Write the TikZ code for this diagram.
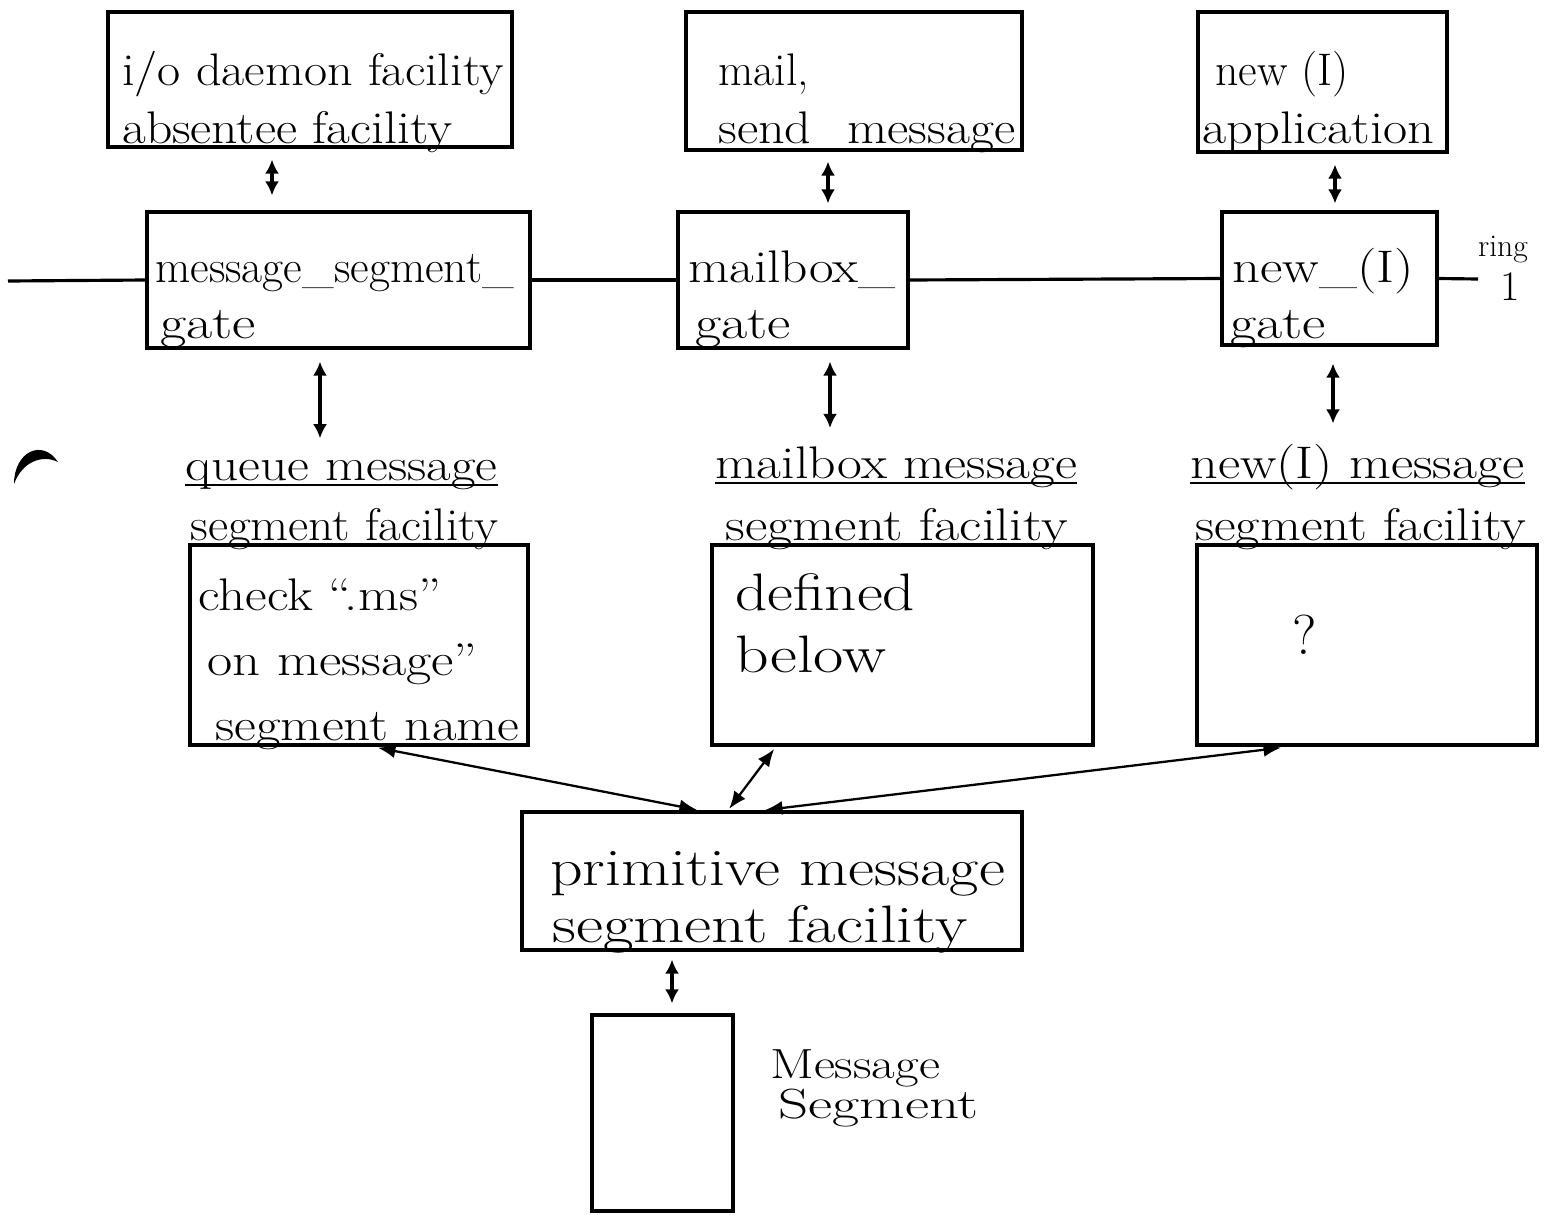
\documentclass[tikz,border=0pt]{standalone}
\usepackage{graphicx}
\usetikzlibrary{arrows.meta,fit,calc}
\newcommand{\hsc}[2]{\scalebox{#1}[1]{#2}}
\begin{document}
\begin{tikzpicture}[x=0.02cm,y=-0.02cm,
  box/.style={draw,line width=1.8pt,inner sep=0pt},
  t/.style={font=\fontsize{26}{30}\selectfont,inner sep=0pt,anchor=base west},
  tb/.style={font=\fontsize{30}{36}\selectfont,inner sep=0pt,anchor=base west},
  ts/.style={font=\fontsize{24}{28}\selectfont,inner sep=0pt,anchor=base west},
  dar/.style={{Latex[length=8pt,width=8pt]}-{Latex[length=8pt,width=8pt]},line width=2pt},
  dart/.style={{Latex[length=10pt,width=8pt]}-{Latex[length=10pt,width=8pt]},line width=1.3pt},
  ring/.style={line width=1.8pt},
  ul/.style={line width=1.5pt}]
\useasboundingbox (0,0) rectangle (1562,1214);

% top row boxes
\node[box,fit={(108,12) (512,147)}] (A) {};
\node[box,fit={(686,12) (1022,150)}] (B) {};
\node[box,fit={(1198,12) (1447,152)}] (C) {};
% gates
\node[box,fit={(147,212) (530,348)}] (GA) {};
\node[box,fit={(678,212) (908,348)}] (GB) {};
\node[box,fit={(1222,212) (1437,345)}] (GC) {};
% facility boxes
\node[box,fit={(190,545) (528,745)}] (QA) {};
\node[box,fit={(712,545) (1093,745)}] (QB) {};
\node[box,fit={(1197,545) (1537,745)}] (QC) {};
% primitive and segment
\node[box,fit={(522,812) (1022,950)}] (P) {};
\node[box,fit={(592,1015) (733,1211)}] (MS) {};

% texts
\node[t] (A1) at (122,85) {\hsc{1.10}{i/o daemon facility}};
\node[t] (A2) at (122,143) {\hsc{1.13}{absentee facility}};
\node[t] (B1) at (718,85) {mail,};
\node[t] (B2) at (718,143) {\hsc{1.14}{send\_message}};
\node[t] (C1) at (1215,85) {new (I)};
\node[t] (C2) at (1202,143) {\hsc{1.15}{application}};
\node[t] (GA1) at (155,282) {message\_segment\_};
\node[t] (GA2) at (160,338) {\hsc{1.25}{gate}};
\node[t] (GB1) at (688,282) {\hsc{1.17}{mailbox\_}};
\node[t] (GB2) at (695,338) {\hsc{1.25}{gate}};
\node[t] (GC1) at (1232,282) {\hsc{1.2}{new\_(I)}};
\node[t] (GC2) at (1230,338) {\hsc{1.25}{gate}};
\node[t] (FA1) at (185,480) {\hsc{1.17}{queue message}};
\node[t] (FA2) at (190,540) {\hsc{1.08}{segment facility}};
\node[t] (FB1) at (715,478) {\hsc{1.18}{mailbox message}};
\node[t] (FB2) at (725,540) {\hsc{1.2}{segment facility}};
\node[t] (FC1) at (1190,478) {\hsc{1.19}{new(I) message}};
\node[t] (FC2) at (1195,540) {\hsc{1.16}{segment facility}};
\node[t] (QA1) at (198,610) {\hsc{1.16}{check “.ms”}};
\node[t] (QA2) at (207,675) {\hsc{1.2}{on message”}};
\node[t] (QA3) at (215,740) {\hsc{1.17}{segment name}};
\node[tb] (QB1) at (735,610) {\hsc{1.2}{defined}};
\node[tb] (QB2) at (735,672) {\hsc{1.25}{below}};
\node[font=\fontsize{32}{36}\selectfont,inner sep=0pt] (QC1) at (1305,635) {?};
\node[tb] (P1) at (550,885) {\hsc{1.21}{primitive message}};
\node[tb] (P2) at (552,942) {\hsc{1.26}{segment facility}};
\node[ts] (MS1) at (770,1078) {\hsc{1.22}{Message}};
\node[ts] (MS2) at (778,1118) {\hsc{1.4}{Segment}};
\node[font=\fontsize{18}{20}\selectfont,inner sep=0pt] (RG1) at (1503,250) {ring};
\node[font=\fontsize{24}{28}\selectfont,inner sep=0pt] (RG2) at (1510,287) {1};

% underlines of facility titles
\draw[ul] ([yshift=-0.1cm]FA1.base west) -- ([yshift=-0.1cm]FA1.base east);
\draw[ul] ([yshift=-0.1cm]FB1.base west) -- ([yshift=-0.1cm]FB1.base east);
\draw[ul] ([yshift=-0.1cm]FC1.base west) -- ([yshift=-0.1cm]FC1.base east);

% ring line
\coordinate (rL) at (8,281);
\coordinate (rR) at (1478,279);
\draw[ring] (rL) -- (GA.west);
\draw[ring] (GA.east) -- (GB.west);
\draw[ring] (GB.east) -- (GC.west);
\draw[ring] (GC.east) -- (rR);

% x positions of vertical arrows
\coordinate (xA) at (272,0);
\coordinate (xB) at (828,0);
\coordinate (xC) at (1335,0);
\coordinate (xGA) at (320,0);
\coordinate (xGB) at (830,0);
\coordinate (xGC) at (1333,0);
\coordinate (xP) at (672,0);

\draw[dar,shorten <=0.22cm,shorten >=0.3cm] (A.south -| xA) -- (GA.north -| xA);
\draw[dar,shorten <=0.2cm,shorten >=0.14cm] (B.south -| xB) -- (GB.north -| xB);
\draw[dar,shorten <=0.22cm,shorten >=0.14cm] (C.south -| xC) -- (GC.north -| xC);
\draw[dar,shorten <=0.24cm,shorten >=0.42cm] (GA.south -| xGA) -- (FA1.north -| xGA);
\draw[dar,shorten <=0.24cm,shorten >=0.36cm] (GB.south -| xGB) -- (FB1.north -| xGB);
\draw[dar,shorten <=0.34cm,shorten >=0.4cm] (GC.south -| xGC) -- (FC1.north -| xGC);
\draw[dar,shorten <=0.16cm,shorten >=0.2cm] (P.south -| xP) -- (MS.north -| xP);

% diagonal arrows from primitive facility
\coordinate (p1) at (700,0);
\coordinate (p2) at (728,0);
\coordinate (p3) at (762,0);
\coordinate (q1) at (372,0);
\coordinate (q2) at (776,0);
\coordinate (q3) at (1290,0);
\draw[dart,shorten <=0.06cm,shorten >=0.12cm] (P.north -| p1) -- (QA.south -| q1);
\draw[dart,shorten <=0.04cm,shorten >=0.06cm] (P.north -| p2) -- (QB.south -| q2);
\draw[dart,shorten <=0.06cm,shorten >=0.18cm] (P.north -| p3) -- (QC.south -| q3);

% scan blot at left
\fill (14,484) .. controls (14,452) and (42,438) .. (58,462)
      .. controls (42,454) and (22,462) .. (14,484) -- cycle;
\end{tikzpicture}
\end{document}
